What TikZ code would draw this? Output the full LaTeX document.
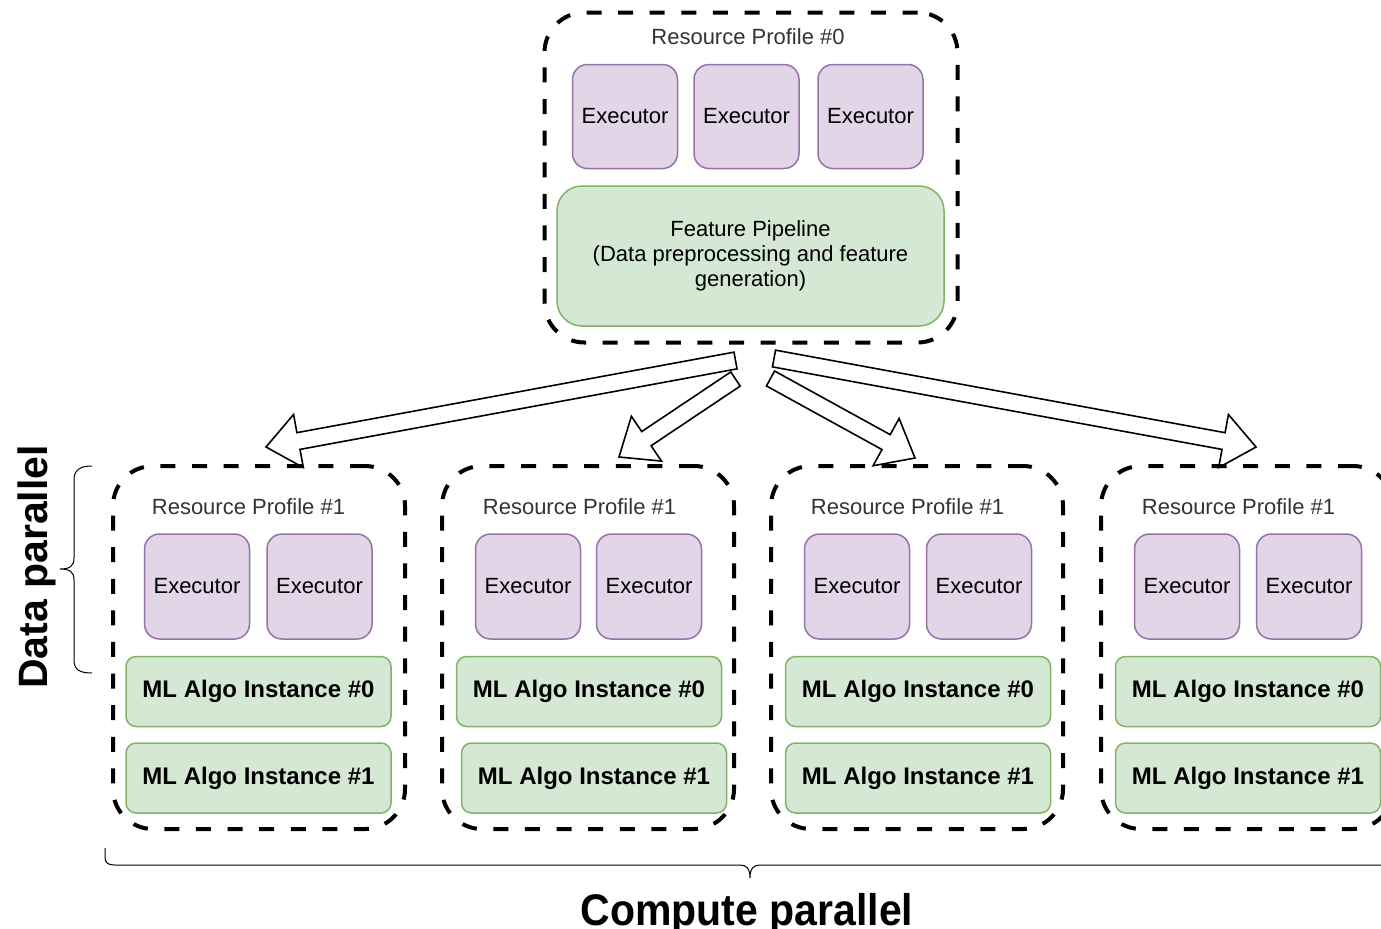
\documentclass[tikz,border=0pt]{standalone}
\usepackage{fontspec}
\setmainfont{Liberation Sans}
\usetikzlibrary{calc}

\definecolor{execfill}{HTML}{E1D5E7}
\definecolor{execline}{HTML}{9673A6}
\definecolor{algofill}{HTML}{D5E8D4}
\definecolor{algoline}{HTML}{82B366}
\definecolor{labelgray}{HTML}{333333}

% hollow block arrow from a tail coordinate to a tip coordinate
\newcommand\fatarrow[2]{%
  \coordinate (#1#2h) at ($(#2)!16.5pt!(#1)$);
  \draw[blockarrow]
    ($(#1)!4.25pt!90:(#2)$) -- ($(#1#2h)!4.25pt!90:(#2)$) --
    ($(#1#2h)!13.5pt!90:(#2)$) -- (#2) --
    ($(#1#2h)!13.5pt!-90:(#2)$) -- ($(#1#2h)!4.25pt!-90:(#2)$) --
    ($(#1)!4.25pt!-90:(#2)$) -- cycle;
}

\tikzset{
  profile/.style={draw=black, line width=2pt, dash pattern=on 7.5pt off 8.3pt,
    rounded corners=20pt, inner sep=0pt},
  topprofile/.style={profile, minimum width=206.5pt, minimum height=165pt},
  subprofile/.style={profile, minimum width=146pt, minimum height=181.5pt},
  profilelabel/.style={text=labelgray, font=\fontsize{11}{13}\selectfont, inner sep=0pt},
  executor/.style={draw=execline, fill=execfill, line width=0.75pt, rounded corners=7.5pt,
    minimum width=52.5pt, minimum height=52pt, inner sep=0pt,
    font=\fontsize{11}{13}\selectfont},
  pipeline/.style={draw=algoline, fill=algofill, line width=0.75pt, rounded corners=12.5pt,
    minimum width=193.5pt, minimum height=70pt, inner sep=0pt, align=center,
    font=\fontsize{11}{12.5}\selectfont},
  algo/.style={draw=algoline, fill=algofill, line width=0.75pt, rounded corners=5pt,
    minimum width=132.5pt, minimum height=35pt, inner sep=0pt,
    font=\bfseries\fontsize{12}{14}\selectfont},
  blockarrow/.style={draw=black, fill=white, line width=0.8pt, line join=miter},
  bracket/.style={draw=black, line width=0.5pt},
  biglabel/.style={font=\bfseries\fontsize{20.5}{24}\selectfont, inner sep=0pt},
}

\begin{document}
\begin{tikzpicture}[x=0.5pt, y=-0.5pt]
\useasboundingbox (0,0) rectangle (1381,928);
\clip (0,0) rectangle (1381,928);

% arrows from the feature pipeline to the four worker profiles
\coordinate (t1) at (735.5,360.5);
\coordinate (t2) at (735.5,379);
\coordinate (t3) at (770.5,378.5);
\coordinate (t4) at (774,358.5);
\coordinate (p1) at (266,447);
\coordinate (p2) at (619,457);
\coordinate (p3) at (915,458);
\coordinate (p4) at (1256,447);
\fatarrow{t1}{p1}
\fatarrow{t2}{p2}
\fatarrow{t3}{p3}
\fatarrow{t4}{p4}

% driver profile
\node[topprofile] (rp0) at (751,177.5) {};
\node[profilelabel] (rp0label) at (748,37) {Resource Profile \#0};
\node[executor] (e01) at (625,116.5) {Executor};
\node[executor] (e02) at (746.5,116.5) {Executor};
\node[executor] (e03) at (870.5,116.5) {Executor};
\node[pipeline] (fp) at (750.5,256) {Feature Pipeline\\(Data preprocessing and feature\\generation)};

% worker profiles
\node[subprofile] (rpa) at (259,647.5) {};
\node[subprofile] (rpb) at (588,647.5) {};
\node[subprofile] (rpc) at (917,647.5) {};
\node[subprofile] (rpd) at (1247,647.5) {};

\node[profilelabel] (rpalabel) at (248.5,507) {Resource Profile \#1};
\node[profilelabel] (rpblabel) at (579.5,507) {Resource Profile \#1};
\node[profilelabel] (rpclabel) at (907.5,507) {Resource Profile \#1};
\node[profilelabel] (rpdlabel) at (1238.5,507) {Resource Profile \#1};

\node[executor, minimum height=52.5pt] (ea1) at (197,586.5) {Executor};
\node[executor, minimum height=52.5pt] (ea2) at (319.5,586.5) {Executor};
\node[executor, minimum height=52.5pt] (eb1) at (528,586.5) {Executor};
\node[executor, minimum height=52.5pt] (eb2) at (649,586.5) {Executor};
\node[executor, minimum height=52.5pt] (ec1) at (857,586.5) {Executor};
\node[executor, minimum height=52.5pt] (ec2) at (979,586.5) {Executor};
\node[executor, minimum height=52.5pt] (ed1) at (1187,586.5) {Executor};
\node[executor, minimum height=52.5pt] (ed2) at (1309,586.5) {Executor};

\node[algo] (ma0) at (258.5,691.5) {ML Algo Instance \#0};
\node[algo] (ma1) at (258.5,778) {ML Algo Instance \#1};
\node[algo] (mb0) at (589,691.5) {ML Algo Instance \#0};
\node[algo] (mb1) at (594,778) {ML Algo Instance \#1};
\node[algo] (mc0) at (918,691.5) {ML Algo Instance \#0};
\node[algo] (mc1) at (918,778) {ML Algo Instance \#1};
\node[algo] (md0) at (1248,691.5) {ML Algo Instance \#0};
\node[algo] (md1) at (1248,778) {ML Algo Instance \#1};

% data parallel bracket and label
\draw[bracket] (92,466) .. controls (80,466) and (74,470) .. (74,480) -- (74,558)
  .. controls (74,566) and (70,569) .. (60,569)
  .. controls (70,569) and (74,572) .. (74,580) -- (74,660)
  .. controls (74,670) and (80,673) .. (92,673);
\node[biglabel, rotate=90, anchor=base] (dp) at (47,567) {Data parallel};

% compute parallel bracket and label
\draw[bracket] (105,848) -- (105,857) .. controls (105,863) and (108,865) .. (115,865)
  -- (740,865) .. controls (746,865) and (750,868) .. (750,878)
  .. controls (750,868) and (754,865) .. (760,865) -- (1400,865);
\node[biglabel, anchor=base] (cp) at (747,925) {\scalebox{1}[1.08]{Compute parallel}};
\end{tikzpicture}
\end{document}
